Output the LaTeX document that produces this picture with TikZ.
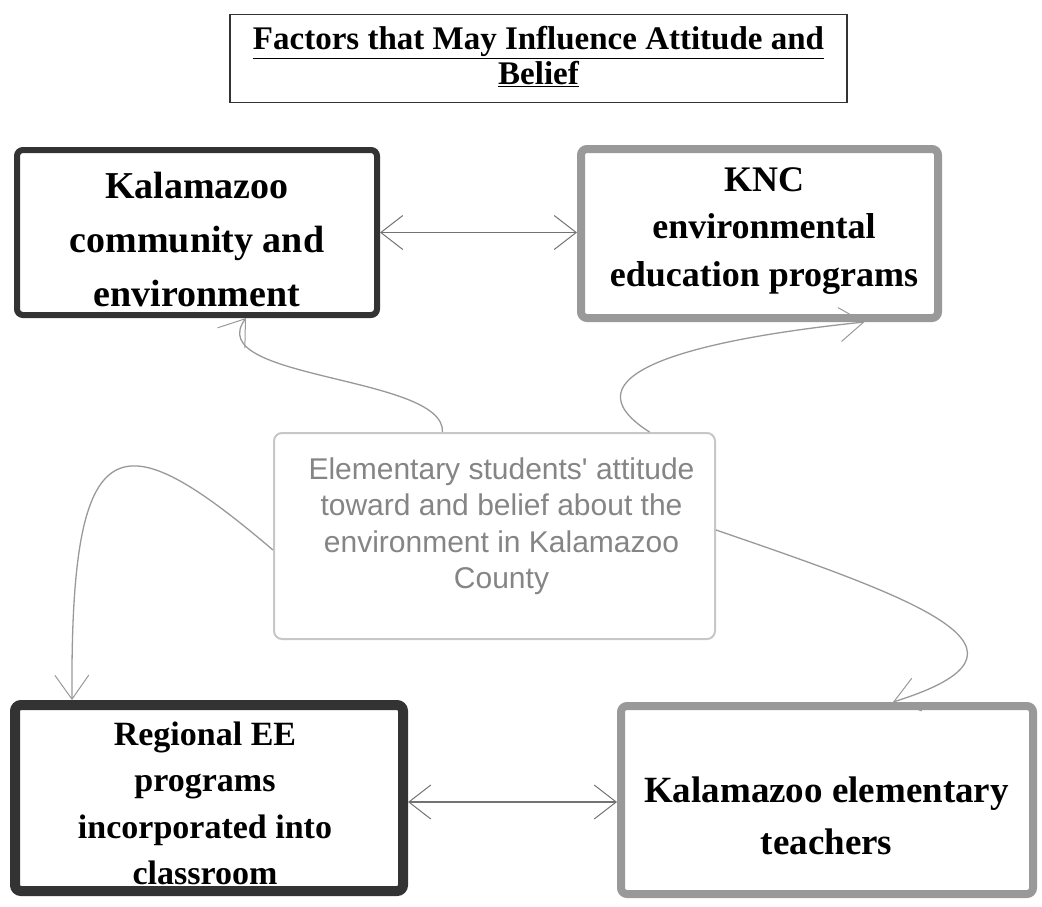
\documentclass[tikz,border=0pt]{standalone}
\usepackage{fontspec}
\setmainfont{Liberation Serif}
\newfontfamily\arialfont{Liberation Sans}
\usetikzlibrary{arrows.meta}

\begin{document}
\begin{tikzpicture}[x=1pt,y=-1pt,
  darkbox/.style={draw=black!80,rounded corners=6pt},
  greybox/.style={draw=black!40,rounded corners=6pt},
  boxtxt/.style={align=center,inner sep=0pt},
  link/.style={draw=black!55,line width=1.5pt,
    {Straight Barb[length=22pt,width=34pt,line width=1pt]}-{Straight Barb[length=22pt,width=34pt,line width=1pt]}},
  curve/.style={draw=black!40,line width=1.3pt,
    -{Straight Barb[length=24pt,width=34pt,line width=1pt]}}]
\useasboundingbox (0,0) rectangle (1042,906);

% title
\node (title) at (538.5,58.5) [draw=black!80,line width=1.5pt,minimum width=617pt,minimum height=88pt] {};
\node (titletxt) at (538.5,57) [boxtxt,font=\bfseries\fontsize{33}{35}\selectfont]
  {\underline{Factors that May Influence Attitude and}\\\underline{Belief}};

% the five boxes
\node (kcom) at (197,232.5) [darkbox,line width=6pt,minimum width=360pt,minimum height=165pt] {};
\node (kcomtxt) at (197,239) [boxtxt,font=\bfseries\fontsize{38}{54}\selectfont]
  {Kalamazoo\\community and\\environment};

\node (knc) at (759.5,233.5) [greybox,line width=8pt,minimum width=357pt,minimum height=169pt] {};
\node (knctxt) at (764,231) [boxtxt,font=\bfseries\fontsize{36}{47.5}\selectfont]
  {KNC\\environmental\\education programs};

\node (stud) at (494.5,536) [draw=black!22,line width=2pt,rounded corners=8pt,minimum width=441pt,minimum height=206pt] {};
\node (studtxt) at (501.5,526) [boxtxt,text=black!48,font=\arialfont\fontsize{30}{36.5}\selectfont]
  {Elementary students' attitude\\toward and belief about the\\environment in Kalamazoo\\County};

\node (regee) at (209,798) [darkbox,line width=10pt,minimum width=388pt,minimum height=186pt] {};
\node (regeetxt) at (205,803.5) [boxtxt,font=\bfseries\fontsize{34}{46.5}\selectfont]
  {Regional EE\\programs\\incorporated into\\classroom};

\node (teach) at (827,800) [greybox,line width=8pt,minimum width=412pt,minimum height=188pt] {};
\node (teachtxt) at (826.5,815.5) [boxtxt,font=\bfseries\fontsize{37}{52}\selectfont]
  {Kalamazoo elementary\\teachers};

% links
\draw[link] (kcom.east) -- (kcom.east -| knc.west);
\draw[link] ([yshift=-4pt]regee.east) -- ([yshift=-4pt]regee.east -| teach.west);

\draw[curve] ([xshift=-52pt]stud.north) .. controls (445,375) and (200,380) .. ([xshift=49pt]kcom.south);
\draw[curve] ([xshift=155pt]stud.north) .. controls (560,375) and (690,340) .. ([xshift=105pt]knc.south);
\draw[curve] ([yshift=-14pt]stud.west) .. controls (120,420) and (70,420) .. ([xshift=-137pt]regee.north);
\draw[curve] ([yshift=6pt]stud.east) .. controls (920,600) and (1060,650) .. ([xshift=66pt]teach.north);
\end{tikzpicture}
\end{document}
